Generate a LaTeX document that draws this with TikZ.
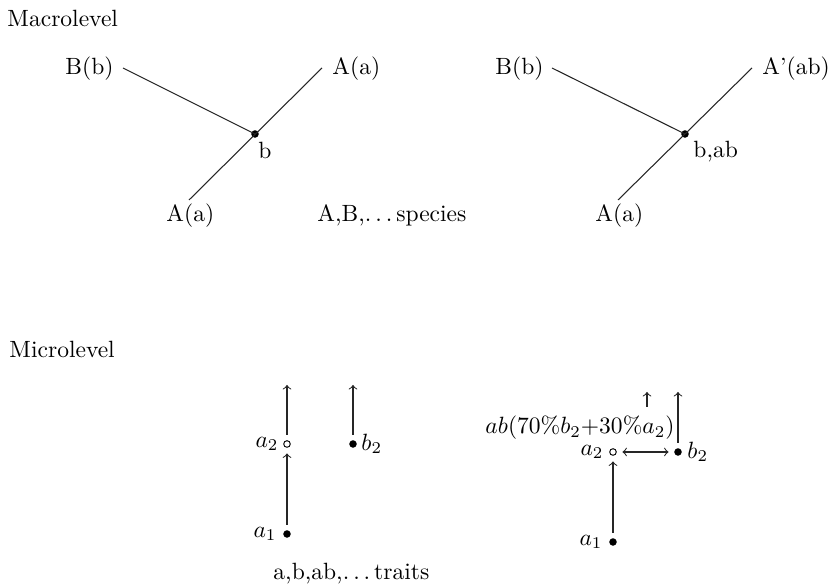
\documentclass[tikz,border=0pt]{standalone}
\newcommand{\mydots}{.\kern0.167em.\kern0.167em.\kern0.167em}
\begin{document}
\begin{tikzpicture}[x=0.425pt,y=-0.425pt,
  edge/.style={black!85, line width=0.45pt},
  arr/.style={black!85, line width=0.45pt, -to},
  dbl/.style={black!85, line width=0.45pt, to-to},
  fdot/.style={circle, fill=black, inner sep=0pt, minimum size=3.2pt, outer sep=2.4pt},
  odot/.style={circle, draw=black, line width=0.4pt, inner sep=0pt, minimum size=2.8pt, outer sep=2.6pt},
  txt/.style={inner sep=0pt},
  title/.style={inner sep=0pt}]
\useasboundingbox (0,0) rectangle (828,587);

% ---------- Macrolevel ----------
\node[title, anchor=base west] (macro) at (7,27) {Macrolevel};

% left tree
\node[fdot] (L) at (255,134) {};
\coordinate (Lb) at (123,68);
\coordinate (Lar) at (322,68);
\coordinate (Lal) at (189,200);
\draw[edge] (L.center) -- (Lb);
\draw[edge] (Lal) -- (Lar);
\node[txt, anchor=base west] (LBb) at (65,75) {B(b)};
\node[txt, anchor=base west] (LAa1) at (332,75) {A(a)};
\node[txt, anchor=base west] (LAa2) at (166,222) {A(a)};
\node[txt, anchor=base west] (Lblab) at (258,159) {b};
\node[txt, anchor=base west] (species) at (317,222) {A,B,\mydots species};

% right tree
\node[fdot] (R) at (685,134) {};
\coordinate (Rb) at (552,68);
\coordinate (Rar) at (752,68);
\coordinate (Ral) at (618,200);
\draw[edge] (R.center) -- (Rb);
\draw[edge] (Ral) -- (Rar);
\node[txt, anchor=base west] (RBb) at (495,75) {B(b)};
\node[txt, anchor=base west] (RAab) at (762,75) {A'(ab)};
\node[txt, anchor=base west] (RAa) at (595,222) {A(a)};
\node[txt, anchor=base west] (Rblab) at (693,158) {b,ab};

% ---------- Microlevel ----------
\node[title, anchor=base west] (micro) at (9,358) {Microlevel};

% left
\node[fdot] (la1) at (287,534) {};
\node[odot] (la2) at (287,444) {};
\node[fdot] (lb2) at (353,444) {};
\coordinate (la2top) at (287,385);
\coordinate (lb2top) at (353,385);
\draw[arr] (la1) -- (la2);
\draw[arr] (la2) -- (la2top);
\draw[arr] (lb2) -- (lb2top);
\node[txt, anchor=east] (la1l) at (277,534) {$a_1$};
\node[txt, anchor=east] (la2l) at (279,444) {$a_2$};
\node[txt, anchor=west] (lb2l) at (361,444) {$b_2$};
\node[txt, anchor=base west] (traits) at (273,580) {a,b,ab,\mydots traits};

% right
\node[fdot] (ra1) at (613,542) {};
\node[odot] (ra2) at (613,452) {};
\node[fdot] (rb2) at (678,452) {};
\coordinate (rb2top) at (678,392);
\coordinate (abtop) at (647,392);
\node[txt] (ab) at (580,428) {$ab(70\%b_2{+}30\%a_2)$};
\coordinate (abbot) at (647,407);
\draw[arr] (ra1) -- (ra2);
\draw[dbl] (ra2) -- (rb2);
\draw[arr] (rb2) -- (rb2top);
\draw[arr] (abbot) -- (abtop);
\node[txt, anchor=east] (ra1l) at (603,542) {$a_1$};
\node[txt, anchor=east] (ra2l) at (604,452) {$a_2$};
\node[txt, anchor=west] (rb2l) at (687,452) {$b_2$};
\end{tikzpicture}
\end{document}
